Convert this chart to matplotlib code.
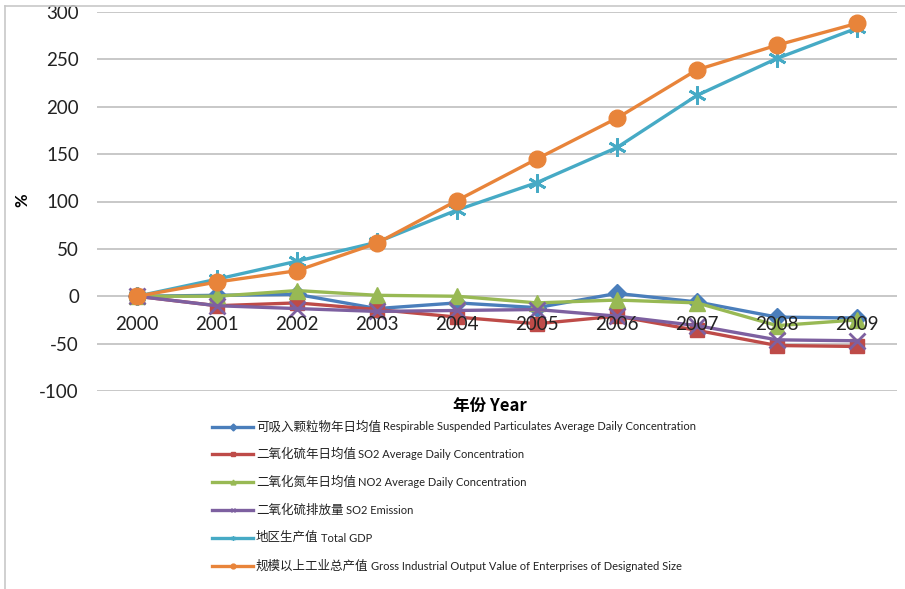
import matplotlib
matplotlib.use('Agg')
import matplotlib.pyplot as plt
from matplotlib.lines import Line2D

plt.rcParams['font.family'] = ['Lato', 'Noto Sans CJK SC', 'DejaVu Sans']
plt.rcParams['axes.unicode_minus'] = False

years = ['2000', '2001', '2002', '2003', '2004', '2005', '2006', '2007', '2008', '2009']

# growth relative to 2000, in percent
respirable = [0, 1, 2, -13, -7, -12, 3, -6, -22, -23]
so2_conc = [0, -10, -7, -14, -22, -29, -21, -36, -52, -53]
no2_conc = [0, 0, 6, 1, 0, -7, -4, -7, -31, -25]
so2_emission = [0, -10, -13, -16, -15, -14, -21, -31, -46, -47]
total_gdp = [0, 18, 37, 57, 91, 120, 157, 212, 251, 283]
industrial_output = [0, 15, 27, 56, 101, 145, 188, 239, 265, 288]

series = [
    (respirable, '可吸入颗粒物年日均值', 'Respirable Suspended Particulates Average Daily Concentration', '#4A7EBB', 'D', 9),
    (so2_conc, '二氧化硫年日均值', 'SO2 Average Daily Concentration', '#BE4B48', 's', 10),
    (no2_conc, '二氧化氮年日均值', 'NO2 Average Daily Concentration', '#98B954', '^', 11),
    (so2_emission, '二氧化硫排放量', 'SO2 Emission', '#7D60A0', 'x', 11),
    (total_gdp, '地区生产值', 'Total GDP', '#46AAC5', (6, 2, 0), 13),
    (industrial_output, '规模以上工业总产值', 'Gross Industrial Output Value of Enterprises of Designated Size', '#E8843A', 'o', 12),
]

W, H = 905, 589
fig = plt.figure(figsize=(W / 100, H / 100), dpi=100)
ax = fig.add_axes([97 / W, 1 - 391 / H, 800 / W, 379 / H])

x = list(range(len(years)))
for vals, cn, en, color, marker, ms in series:
    mew = 2 if marker in ('x', (6, 2, 0)) else 1
    ax.plot(x, vals, color=color, lw=2.4, marker=marker, ms=ms,
            mec=color, mfc=color, mew=mew)

ax.set_xlim(-0.5, 9.5)
ax.set_ylim(-100, 300)
ax.set_yticks(range(-100, 301, 50))
ax.set_xticks(x)
ax.set_xticklabels(years)
ax.grid(axis='y', color='#BFBFBF', lw=1.2)
ax.set_axisbelow(True)
for side in ['top', 'right', 'left']:
    ax.spines[side].set_visible(False)
# category labels sit just under the zero line, drawn over the lines
ax.spines['bottom'].set_position(('data', 0))
ax.spines['bottom'].set_visible(False)
ax.xaxis.set_zorder(5)
ax.tick_params(axis='x', length=0, pad=14, labelsize=13.5, labelcolor='#222222')
ax.tick_params(axis='y', length=0, pad=13, labelsize=13.5, labelcolor='#222222')

fig.text(22 / W, 1 - 200 / H, '%', rotation=90, ha='center', va='center',
         fontsize=12, fontweight='bold')
fig.text(490 / W, 1 - 406 / H, '年份 Year', ha='center', va='center',
         fontsize=12, fontweight='bold',
         family=['Noto Sans CJK SC', 'DejaVu Sans'])

# legend built by hand: Chinese name followed by a smaller English name
legend_y = [427, 454, 482, 510, 538, 566]
cn_texts = []
for (vals, cn, en, color, marker, ms), ly in zip(series, legend_y):
    yf = 1 - ly / H
    fig.add_artist(Line2D([212 / W, 253 / W], [yf, yf], color=color, lw=2.4,
                          transform=fig.transFigure))
    fig.add_artist(Line2D([(212 + 253) / 2 / W], [yf], color=color,
                          marker=marker, ms=3.5, lw=0, transform=fig.transFigure))
    t = fig.text(256 / W, yf, cn, ha='left', va='center', fontsize=9,
                 family=['Noto Sans CJK SC'], color='#222222')
    cn_texts.append((t, en, yf))

fig.canvas.draw()
renderer = fig.canvas.get_renderer()
for t, en, yf in cn_texts:
    bb = t.get_window_extent(renderer)
    fig.text((bb.x1 + 2) / W, yf, en, ha='left', va='center', fontsize=8,
             color='#222222')

# page frame on the left and top
fig.add_artist(Line2D([5 / W, 5 / W], [0, 1 - 6 / H], color='#C8C8C8', lw=1.2,
                      transform=fig.transFigure))
fig.add_artist(Line2D([5 / W, 1], [1 - 6 / H, 1 - 6 / H], color='#C8C8C8', lw=1.2,
                      transform=fig.transFigure))

fig.savefig('out.png', dpi=100)
